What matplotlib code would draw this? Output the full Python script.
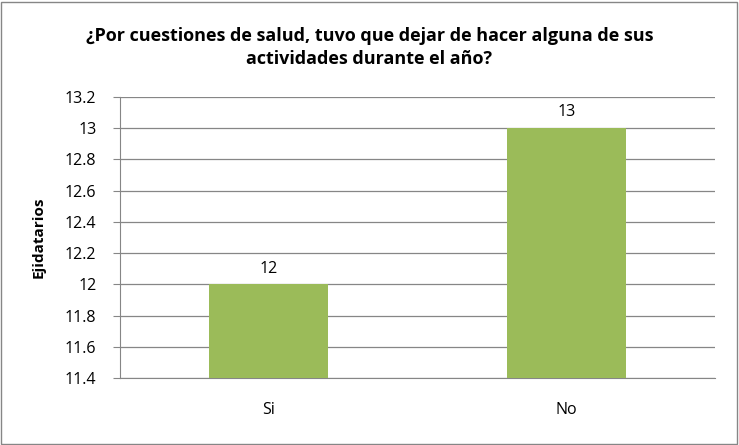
import matplotlib.pyplot as plt
from matplotlib.patches import Rectangle

categories = ['Si', 'No']
values = [12, 13]
yticks = [11.4, 11.6, 11.8, 12, 12.2, 12.4, 12.6, 12.8, 13, 13.2]
ytick_labels = ['11.4', '11.6', '11.8', '12', '12.2', '12.4', '12.6', '12.8', '13', '13.2']

plt.rcParams['font.family'] = ['Open Sans', 'DejaVu Sans']

fig = plt.figure(figsize=(7.39, 4.45), dpi=100)
ax = fig.add_axes([0.1624, 0.1506, 0.805, 0.6314])

x = range(len(categories))
bars = ax.bar(x, values, width=0.4, bottom=0, color='#9BBB59', zorder=3)
ax.set_ylim(11.4, 13.2)
ax.set_xlim(-0.5, 1.5)
ax.set_yticks(yticks)
ax.set_yticklabels(ytick_labels, fontsize=11.5)
ax.set_xticks(list(x))
ax.set_xticklabels(categories, fontsize=11.5)
ax.tick_params(axis='x', length=0, pad=17)
ax.tick_params(axis='y', length=5, color='#868686', pad=12)
ax.yaxis.grid(True, color='#868686', linewidth=0.9, zorder=0)

for side in ['top', 'right']:
    ax.spines[side].set_visible(False)
for side in ['left', 'bottom']:
    ax.spines[side].set_color('#868686')

for i, v in enumerate(values):
    ax.text(i, v + 0.05, str(v), ha='center', va='bottom', fontsize=11.5)

ax.set_ylabel('Ejidatarios', fontsize=11, fontweight='bold', labelpad=14)

fig.text(0.5, 0.894, '¿Por cuestiones de salud, tuvo que dejar de hacer alguna de sus\nactividades durante el año?',
         ha='center', va='center', fontsize=13, fontweight='bold', linespacing=1.35)

fig.patches.append(Rectangle((0.002, 0.003), 0.995, 0.993, transform=fig.transFigure,
                             fill=False, edgecolor='#868686', linewidth=1))

fig.savefig('out.png', dpi=100)
